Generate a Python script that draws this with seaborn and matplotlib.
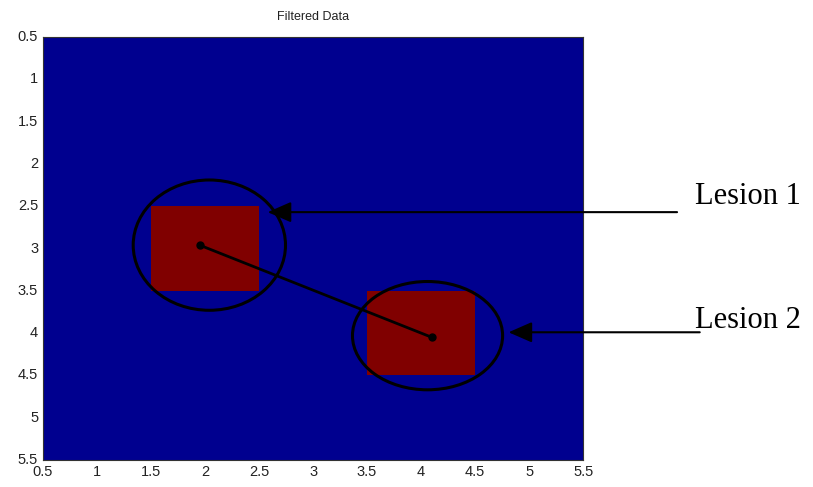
import numpy as np
import pandas as pd
import matplotlib.pyplot as plt
import seaborn as sns
from matplotlib.patches import Ellipse

# filtered 5x5 map (1 = lesion cell)
rows = [1, 2, 3, 4, 5]
cols = [1, 2, 3, 4, 5]
filtered = [
    [0, 0, 0, 0, 0],
    [0, 0, 0, 0, 0],
    [0, 1, 0, 0, 0],
    [0, 0, 0, 1, 0],
    [0, 0, 0, 0, 0],
]
tick_vals = [0.5, 1, 1.5, 2, 2.5, 3, 3.5, 4, 4.5, 5, 5.5]

# hand drawn annotations (in image coordinates, like matlab)
lesion_names = ["Lesion 1", "Lesion 2"]
dot_x = [1.95, 4.10]
dot_y = [2.96, 4.05]
ring_x = [2.04, 4.06]
ring_y = [2.96, 4.03]
ring_w = [1.41, 1.39]
ring_h = [1.54, 1.28]
arrow_tip_x = [2.58, 4.81]
arrow_tail_x = [6.37, 6.58]
arrow_y = [2.57, 3.99]
label_x = [6.54, 6.54]
label_y = [2.39, 3.85]

df = pd.DataFrame(filtered, index=rows, columns=cols)

sns.set_style("white")
fig = plt.figure(figsize=(8.13, 4.87), dpi=100)
ax = fig.add_axes([0.0529, 0.0554, 0.6643, 0.8686])

# matlab jet ends: dark blue background, dark red lesions
sns.heatmap(df, cmap=["#00008F", "#800000"], cbar=False, ax=ax, vmin=0, vmax=1)

# heatmap cells sit at 0..5, matlab image at 0.5..5.5
off = 0.5
ax.set_xlim(0, 5)
ax.set_ylim(5, 0)
ax.set_xticks([t - off for t in tick_vals])
ax.set_xticklabels([f"{t:g}" for t in tick_vals], rotation=0)
ax.set_yticks([t - off for t in tick_vals])
ax.set_yticklabels([f"{t:g}" for t in tick_vals], rotation=0)
ax.set_xlabel("")
ax.set_ylabel("")
ax.tick_params(direction="in", length=4, width=0.6, top=True, right=True,
               labelsize=10.5, colors="#222222", labelcolor="#222222")
for lab in ax.get_xticklabels() + ax.get_yticklabels():
    lab.set_family("Liberation Sans")
for s in ax.spines.values():
    s.set_visible(True)
    s.set_linewidth(0.8)
    s.set_color("#333333")
ax.set_title("Filtered Data", fontsize=9, family="Liberation Sans", pad=12,
             color="#222222")

for i in range(2):
    ax.add_patch(Ellipse((ring_x[i] - off, ring_y[i] - off), ring_w[i], ring_h[i],
                         fill=False, ec="black", lw=2.2, clip_on=False))
ax.plot([x - off for x in dot_x], [y - off for y in dot_y], color="black",
        lw=2, marker="o", ms=5)

for i in range(2):
    ax.annotate("", xy=(arrow_tip_x[i] - off, arrow_y[i] - off),
                xytext=(arrow_tail_x[i] - off, arrow_y[i] - off),
                arrowprops=dict(arrowstyle="-|>,head_length=0.8,head_width=0.35",
                                color="black", lw=1.5, shrinkA=0, shrinkB=0,
                                mutation_scale=18),
                annotation_clip=False)
    ax.text(label_x[i] - off, label_y[i] - off, lesion_names[i], fontsize=22,
            family="Liberation Serif", va="center", ha="left", clip_on=False,
            color="black")

fig.savefig("out.png", dpi=100)
